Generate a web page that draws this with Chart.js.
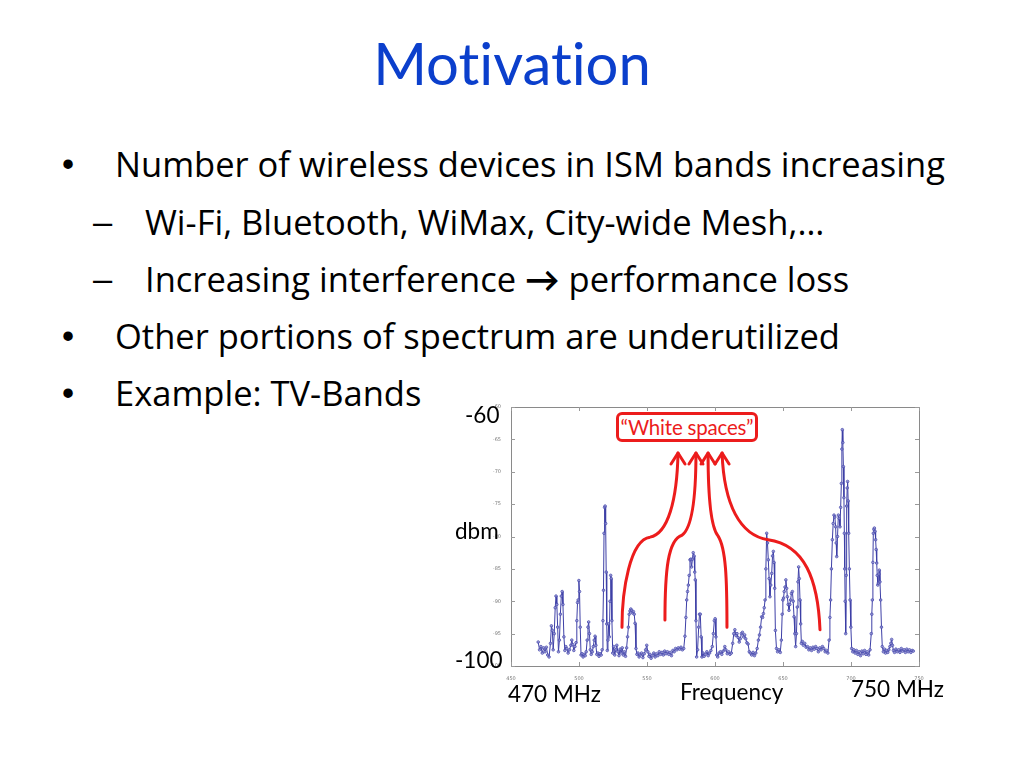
<!DOCTYPE html>
<html>
<head>
<meta charset="utf-8">
<script src="https://cdn.jsdelivr.net/npm/chart.js@4.4.0/dist/chart.umd.min.js"></script>
<style>
  html, body { margin:0; padding:0; background:#fff; }
  #slide { position:relative; width:1024px; height:768px; overflow:hidden; font-family: "Open Sans", Lato, sans-serif; color:#000; font-variant-ligatures:none; }
  .t { position:absolute; white-space:nowrap; line-height:1; }
  .body { font-size:34.5px; }
  .mk { font-family: "Liberation Sans", Arial, sans-serif; }
  .lbl { font-size:22.5px; font-family: Lato, sans-serif; }
  #title { left:0; width:1024px; text-align:center; top:34px; font-size:58px; color:#0b3fcc; font-family: Lato, sans-serif; font-variant-ligatures:none; }
  #chartWrap { position:absolute; left:480px; top:395px; width:460px; height:290px; }
  #box { position:absolute; left:616px; top:412px; width:136px; height:24px; border:3px solid #ec1c1c; border-radius:6px; color:#ec1c1c; font-size:20.5px; letter-spacing:-0.2px; line-height:24px; text-align:center; background:#fff; white-space:nowrap; font-family: Lato, sans-serif; }
</style>
</head>
<body>
<div id="slide">
  <div class="t" id="title">Motivation</div>

  <div class="t body mk" style="left:62px; top:147px;">•</div>
  <div class="t body" style="left:115px; top:147px;">Number of wireless devices in ISM bands increasing</div>
  <div class="t body mk" style="left:93px; top:205px;">–</div>
  <div class="t body" style="left:145px; top:205px;">Wi-Fi, Bluetooth, WiMax, City-wide Mesh,…</div>
  <div class="t body mk" style="left:93px; top:262px;">–</div>
  <div class="t body" style="left:145px; top:262px;">Increasing interference <b>→</b> performance loss</div>
  <div class="t body mk" style="left:62px; top:319px;">•</div>
  <div class="t body" style="left:115px; top:319px;">Other portions of spectrum are underutilized</div>
  <div class="t body mk" style="left:62px; top:376px;">•</div>
  <div class="t body" style="left:115px; top:376px;">Example: TV-Bands</div>

  <div id="chartWrap"><canvas id="c" width="460" height="290"></canvas></div>

  <div id="box">“White spaces”</div>

  <div class="t lbl" style="left:465px; top:404px;">-60</div>
  <div class="t lbl" style="left:455px; top:520px;">dbm</div>
  <div class="t lbl" style="left:455px; top:649px;">-100</div>
  <div class="t lbl" style="left:508px; top:683px;">470 MHz</div>
  <div class="t lbl" style="left:680px; top:681px;">Frequency</div>
  <div class="t lbl" style="left:851px; top:678px;">750 MHz</div>
</div>

<script>
// ---- Data ----
const freqMHz = [
470,471,472,473,474,475,476,477,478,479,479.7,480.4,481,481.8,482.5,483.1,483.7,484.3,484.9,485.6,
486.3,487,487.6,488.2,488.9,489.6,490.3,491,492,493,494,494.7,495.4,496.2,497,497.8,498.4,498.9,499.4,499.9,
500.4,500.9,501.5,502.2,503,503.8,504.6,505.3,506,506.6,507.1,507.7,508.3,509,509.8,510.5,511.2,511.8,512.4,513.1,
513.9,514.7,515.5,516.3,517,517.6,518,518.4,518.8,519.2,519.6,520,520.4,520.8,521.3,521.8,522.3,522.8,523.3,523.7,
524.2,524.8,525.5,526.3,527,527.8,528.6,529.4,530.2,531,531.8,532.6,533.4,534.2,535,535.7,536.3,536.9,537.5,538.1,
538.7,539.3,540,540.6,541.2,541.9,542.6,543.4,544.2,545,546,547,548,549,549.8,550.6,551.4,552.2,553,554,
555,556,557,558,559,560,561,562,563,564,565,566,567,568,569,570,571,572,573,574,
575,576,577,577.9,578.6,579.2,579.8,580.4,581,581.6,582.2,582.8,583.4,584,584.6,585.1,585.5,586,586.5,587.2,
588,588.6,589.2,589.8,590.4,591.2,592,593,594,595,596,597,598,598.8,599.5,600.1,600.7,601.3,602,603,
604,605,606,607.2,608,609,610,611,612,613,613.8,614.6,615.4,616.2,617,617.8,618.6,619.4,620.2,621,
621.8,622.6,623.4,624.3,625.2,626,627,628,629,630,631,631.9,632.7,633.5,634.3,635,635.6,636.2,636.8,637.4,
638,638.6,639.2,639.8,640.4,641,641.7,642.3,642.9,643.4,643.9,644.4,645.2,646,647,648,648.8,649.4,649.9,650.4,
650.9,651.5,652.1,652.7,653.2,653.8,654.4,655,655.6,656.2,656.9,657.5,658.1,658.7,659.3,659.9,660.5,661,661.5,662,
662.5,663,663.5,664.2,665,666,667,668,669,670,671,672,673,674,675,676,677,678,679,680,
681,682,683,683.9,684.5,685,685.6,686.3,686.9,687.5,688.1,688.7,689.1,689.5,690.1,690.7,691.3,691.9,692.4,692.9,
693.3,693.6,694,694.4,694.8,695.1,695.4,695.7,696.1,696.5,696.8,697.2,697.5,697.9,698.3,698.8,699.3,699.9,700.5,701.3,
702.1,703,704,705,706,707,708,709,710,711,712,713,714,714.9,715.3,715.7,716.1,716.4,716.8,717.2,
717.7,718.1,718.5,718.9,719.3,719.7,720.1,720.5,720.8,721.3,721.8,722.4,723,723.8,724.6,725.4,726.2,727,727.8,728.6,
729.3,729.9,730.5,731.2,732,733,734,735,736,737,738,739,740,741,742,743,744,745,745.8
];
const powerDbm = [
-96.3,-97.5,-97.0,-98.0,-97.2,-97.8,-97.1,-98.3,-98.6,-96.5,-93.8,-94.5,-97.5,-95.0,-91.0,-89.2,-90.5,-94.0,-97.8,-96.0,
-92.0,-89.2,-88.5,-90.5,-95.5,-97.6,-97.0,-97.3,-98.0,-97.5,-96.8,-96.0,-96.7,-97.6,-97.0,-96.4,-93.0,-90.2,-89.8,-86.8,
-88.5,-94.0,-98.3,-98.1,-98.6,-98.2,-98.4,-97.8,-96.0,-94.0,-93.2,-95.0,-97.5,-98.2,-97.8,-97.0,-96.0,-95.4,-96.8,-98.2,
-98.0,-98.5,-98.1,-98.3,-97.5,-93.0,-88.3,-79.5,-75.5,-75.3,-78.0,-85.5,-93.5,-97.6,-96.0,-93.5,-95.5,-90.0,-86.0,-86.5,
-93.0,-98.0,-97.0,-98.3,-97.5,-96.8,-97.8,-98.4,-97.4,-98.0,-97.2,-98.3,-97.8,-98.5,-97.2,-95.5,-94.0,-92.0,-91.5,-91.2,
-91.4,-91.8,-91.6,-92.0,-93.4,-97.3,-98.2,-98.0,-98.6,-98.3,-98.0,-98.7,-98.1,-97.5,-96.8,-97.8,-98.5,-98.2,-98.8,-98.4,
-98.0,-98.6,-98.1,-98.4,-97.8,-98.2,-97.9,-98.3,-97.7,-98.1,-97.8,-98.2,-97.9,-98.4,-97.6,-97.8,-97.3,-97.5,-97.2,-97.4,
-97.1,-97.5,-97.3,-95.4,-92.5,-89.8,-88.5,-87.5,-86.0,-83.6,-83.5,-84.7,-83.5,-82.5,-83.0,-85.5,-86.7,-93.0,-98.6,-97.5,
-94.0,-92.0,-92.0,-95.5,-98.6,-98.0,-98.5,-98.2,-97.8,-98.4,-98.0,-97.6,-97.0,-95.0,-93.0,-92.7,-95.5,-98.3,-98.6,-98.0,
-97.8,-98.2,-97.7,-97.0,-97.5,-98.1,-97.8,-98.2,-98.0,-96.5,-95.0,-94.4,-95.3,-95.0,-95.6,-96.3,-95.8,-95.0,-94.8,-95.5,
-95.2,-95.8,-96.4,-96.6,-97.8,-98.0,-98.3,-97.9,-98.4,-98.0,-97.3,-96.0,-95.2,-94.0,-92.4,-92.5,-91.9,-91.0,-89.8,-85.0,
-79.5,-81.0,-83.6,-86.5,-89.3,-87.5,-85.7,-83.0,-82.3,-84.0,-88.0,-94.5,-97.3,-97.8,-97.5,-97.9,-96.0,-92.0,-89.8,-89.5,
-88.5,-87.8,-86.7,-88.0,-89.3,-90.5,-91.4,-90.5,-89.8,-88.8,-88.5,-90.0,-92.4,-95.0,-97.0,-95.0,-90.9,-87.0,-84.7,-86.5,
-89.8,-93.5,-96.5,-96.2,-96.8,-96.5,-97.1,-97.0,-97.5,-97.2,-97.6,-97.1,-97.4,-97.0,-97.3,-97.8,-97.2,-97.5,-97.0,-97.3,
-97.8,-97.6,-98.0,-96.0,-92.5,-89.8,-85.0,-80.5,-78.0,-76.7,-77.0,-78.5,-81.0,-83.1,-80.0,-76.7,-77.2,-78.5,-75.5,-71.8,
-66.5,-63.5,-65.5,-69.2,-74.0,-79.5,-85.0,-90.0,-95.0,-86.0,-75.3,-72.5,-71.5,-74.5,-79.5,-85.0,-89.8,-94.0,-97.3,-97.8,
-97.5,-98.0,-97.6,-98.2,-97.8,-98.4,-97.7,-98.1,-97.6,-98.2,-97.8,-98.3,-97.5,-95.0,-92.0,-89.8,-84.0,-79.5,-78.9,-78.7,
-79.2,-80.5,-82.0,-84.1,-86.0,-87.5,-87.2,-85.8,-85.2,-87.0,-89.8,-94.0,-97.0,-97.8,-97.4,-98.0,-97.6,-97.9,-97.5,-97.0,
-96.5,-95.9,-96.8,-97.6,-97.9,-97.4,-97.8,-97.5,-97.9,-97.3,-97.7,-97.5,-97.9,-97.4,-97.8,-97.5,-97.9,-97.6,-97.7
];
const xTicks = [450, 500, 550, 600, 650, 700, 750];
const yTicks = [-100, -95, -90, -85, -80, -75, -70, -65, -60];

// "White spaces" arrows, in data units (MHz, dBm): start, c1, c2, mid, c3, c4, tip
const arrow1 = [[531.6,-94.0],[531.6,-88.3],[537.5,-80.5],[552.2,-80.1],[565.4,-79.6],[572.1,-74.4],[572.8,-67.1]];
const arrow2 = [[563.2,-92.9],[563.2,-85.2],[565.4,-80.5],[575.7,-79.8],[583.1,-78.7],[586.0,-73.6],[586.0,-67.1]];
const arrow3 = [[608.8,-94.0],[608.8,-86.7],[608.1,-81.8],[602.2,-79.9],[596.3,-78.4],[594.9,-72.8],[594.9,-67.1]];
const arrow4 = [[677.2,-94.4],[675.7,-86.7],[666.2,-81.3],[639.0,-80.5],[618.4,-79.8],[606.6,-75.1],[605.2,-67.1]];
const arrows = [arrow1, arrow2, arrow3, arrow4];

const points = freqMHz.map((f, i) => ({ x: f, y: powerDbm[i] }));

const framePlugin = {
  id: 'frame',
  afterDatasetsDraw(chart) {
    const { ctx, chartArea: a, scales } = chart;
    ctx.save();
    ctx.strokeStyle = '#8a8a8a';
    ctx.lineWidth = 1;
    ctx.strokeRect(a.left + 0.5, a.top + 0.5, a.right - a.left, a.bottom - a.top);
    ctx.strokeStyle = '#9a9a9a';
    ctx.beginPath();
    xTicks.forEach(v => {
      const px = Math.round(scales.x.getPixelForValue(v)) + 0.5;
      ctx.moveTo(px, a.bottom); ctx.lineTo(px, a.bottom - 4);
      ctx.moveTo(px, a.top); ctx.lineTo(px, a.top + 4);
    });
    yTicks.forEach(v => {
      const py = Math.round(scales.y.getPixelForValue(v)) + 0.5;
      ctx.moveTo(a.left, py); ctx.lineTo(a.left + 4, py);
      ctx.moveTo(a.right, py); ctx.lineTo(a.right - 4, py);
    });
    ctx.stroke();
    ctx.restore();
  },
  afterDraw(chart) {
    const { ctx, scales } = chart;
    const P = p => [scales.x.getPixelForValue(p[0]), scales.y.getPixelForValue(p[1])];
    ctx.save();
    ctx.strokeStyle = '#ec1c1c';
    ctx.lineWidth = 3;
    ctx.lineCap = 'round';
    ctx.lineJoin = 'round';
    arrows.forEach(ar => {
      const q = ar.map(P);
      ctx.beginPath();
      ctx.moveTo(q[0][0], q[0][1]);
      ctx.bezierCurveTo(q[1][0], q[1][1], q[2][0], q[2][1], q[3][0], q[3][1]);
      ctx.bezierCurveTo(q[4][0], q[4][1], q[5][0], q[5][1], q[6][0], q[6][1]);
      ctx.stroke();
      const t = q[6];
      ctx.beginPath();
      ctx.moveTo(t[0] - 7, t[1] + 11);
      ctx.lineTo(t[0], t[1]);
      ctx.lineTo(t[0] + 7, t[1] + 11);
      ctx.stroke();
    });
    ctx.restore();
  }
};

new Chart(document.getElementById('c'), {
  type: 'scatter',
  data: {
    datasets: [{
      data: points,
      showLine: true,
      borderColor: '#3d3fa6',
      borderWidth: 1,
      pointRadius: 1.3,
      pointBorderWidth: 0.8,
      pointBorderColor: '#4a4cb0',
      pointBackgroundColor: 'rgba(150,150,210,0.7)',
      tension: 0
    }]
  },
  options: {
    responsive: false,
    animation: false,
    events: [],
    layout: { padding: { top: 12, right: 21, left: 0, bottom: 0 } },
    plugins: { legend: { display: false }, tooltip: { enabled: false } },
    scales: {
      x: {
        type: 'linear', min: 450, max: 750,
        afterFit: s => { s.height = 19; },
        afterBuildTicks: s => { s.ticks = xTicks.map(v => ({ value: v })); },
        grid: { display: false }, border: { display: false },
        ticks: { font: { size: 5, family: 'DejaVu Sans' }, color: '#777', padding: 2, maxRotation: 0 }
      },
      y: {
        type: 'linear', min: -100, max: -60,
        afterFit: s => { s.width = 31; },
        afterBuildTicks: s => { s.ticks = yTicks.map(v => ({ value: v })); },
        grid: { display: false }, border: { display: false },
        ticks: { font: { size: 5, family: 'DejaVu Sans' }, color: '#777', padding: 2 }
      }
    }
  },
  plugins: [framePlugin]
});
</script>
</body>
</html>
